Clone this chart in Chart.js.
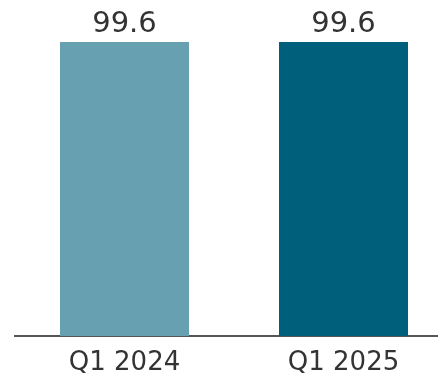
<!DOCTYPE html>
<html>
<head>
<meta charset="utf-8">
<script src="https://cdn.jsdelivr.net/npm/chart.js@4"></script>
<style>
  html, body { margin: 0; padding: 0; background: #fff; }
  canvas { display: block; }
</style>
</head>
<body>
<canvas id="quarterChart" width="438" height="379"></canvas>
<script>
const quarters = ['Q1 2024', 'Q1 2025'];
const values = [99.6, 99.6];
const barColors = ['#67a0b0', '#005f7a'];

// the x axis in the original runs past the right edge of the picture
const stretchX = {
    id: 'stretchX',
    afterLayout(chart) {
        const x = chart.scales.x;
        x.right = 453;
        x.width = x.right - x.left;
        x.configure();
    }
};

// draws the value above each bar
const valueLabels = {
    id: 'valueLabels',
    afterDatasetsDraw(chart) {
        const ctx = chart.ctx;
        const meta = chart.getDatasetMeta(0);
        ctx.save();
        ctx.font = '29px "DejaVu Sans"';
        ctx.fillStyle = '#333333';
        ctx.textAlign = 'center';
        ctx.textBaseline = 'alphabetic';
        meta.data.forEach((bar, i) => {
            ctx.fillText(values[i].toFixed(1), bar.x, bar.y - 10);
        });
        ctx.restore();
    }
};

new Chart(document.getElementById('quarterChart'), {
    type: 'bar',
    data: {
        labels: quarters,
        datasets: [{
            data: values,
            backgroundColor: barColors,
            borderWidth: 0,
            barPercentage: 0.589,
            categoryPercentage: 1,
        }]
    },
    options: {
        responsive: false,
        animation: false,
        layout: {
            padding: { top: 42, left: 15, right: 0, bottom: 0 }
        },
        scales: {
            y: {
                display: false,
                min: 0,
                max: 99.6,
            },
            x: {
                grid: { display: false, drawTicks: false },
                border: { display: true, color: '#555555', width: 2 },
                ticks: {
                    color: '#333333',
                    font: { family: 'DejaVu Sans', size: 26 },
                    padding: 12,
                },
                afterFit(scale) {
                    scale.height = 43;
                }
            }
        },
        plugins: {
            legend: { display: false },
            tooltip: { enabled: false },
        },
    },
    plugins: [stretchX, valueLabels]
});
</script>
</body>
</html>
